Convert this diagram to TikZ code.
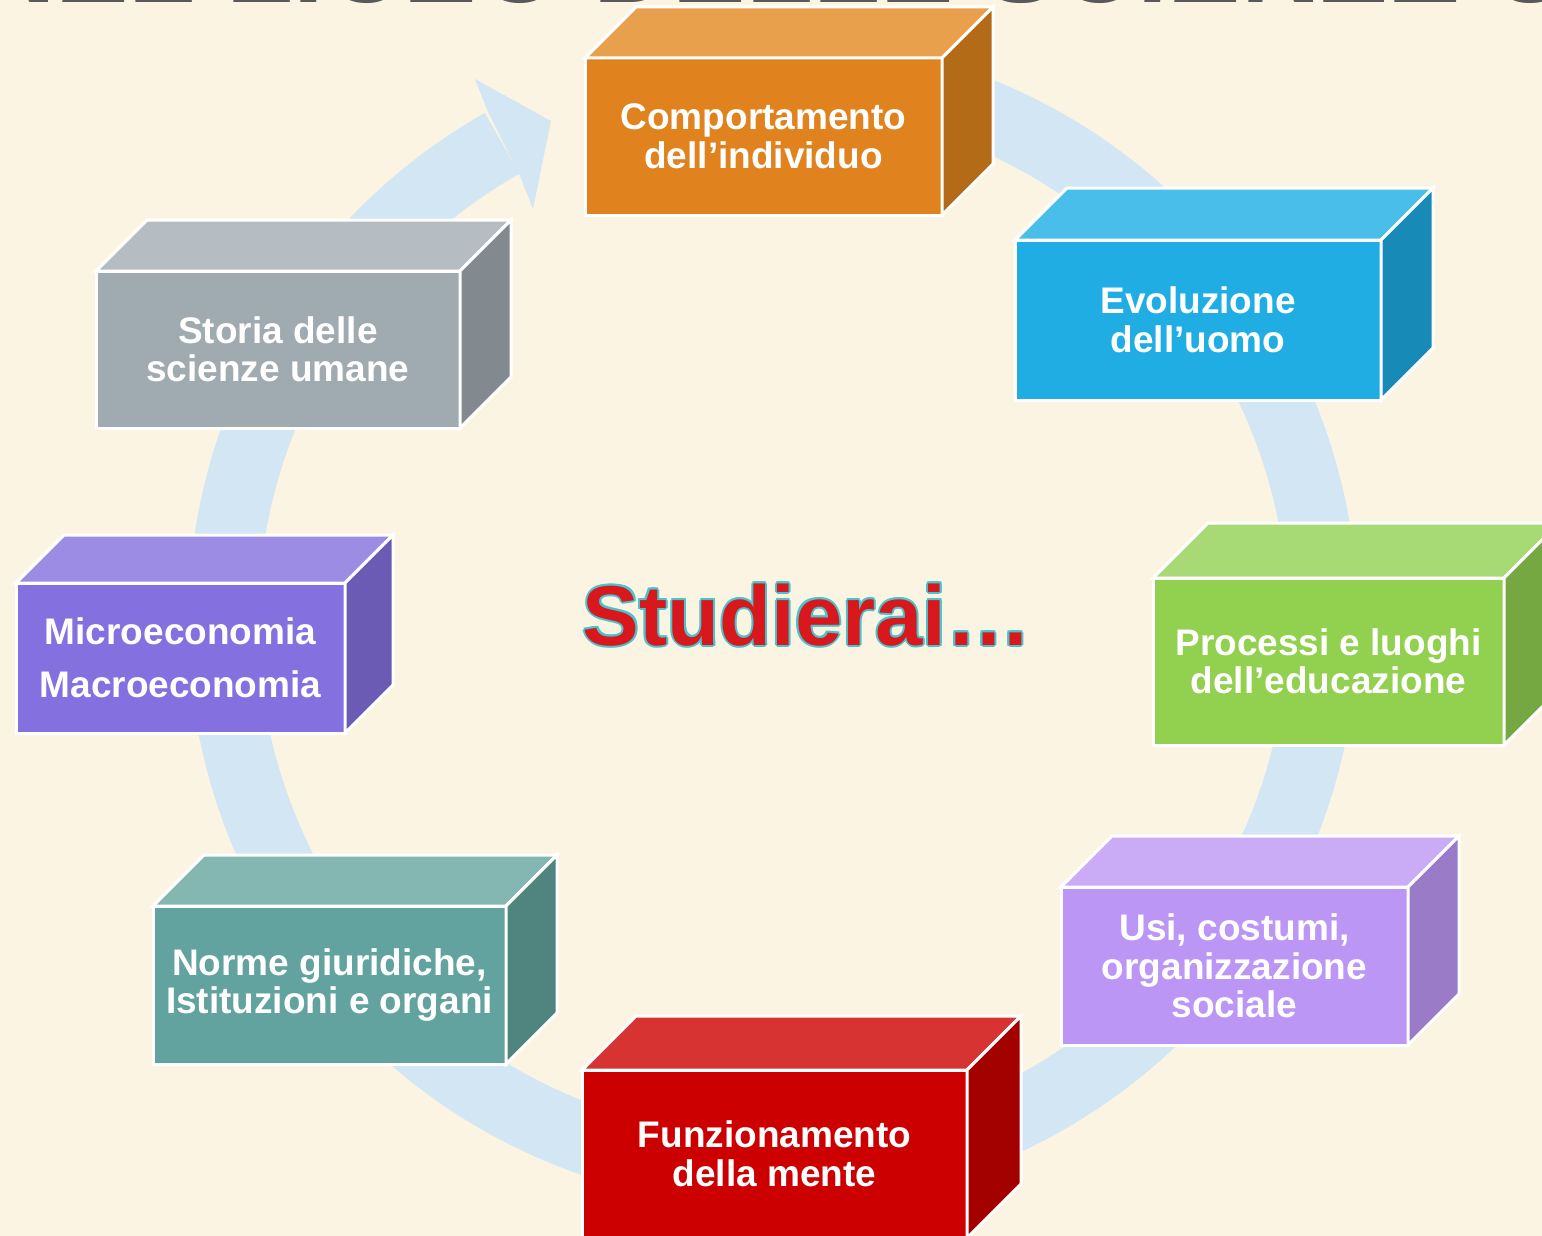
\documentclass[tikz,border=0pt]{standalone}
\usepackage{fontspec}
\setmainfont{Liberation Sans}
\definecolor{bg}{HTML}{FCF4E3}
\definecolor{band}{HTML}{D3E6F4}
\definecolor{titlegray}{HTML}{595959}
\definecolor{studred}{HTML}{D9181E}
\definecolor{studcyan}{HTML}{45C6CF}
\definecolor{oF}{HTML}{E0821E}\definecolor{oT}{HTML}{E8A04C}\definecolor{oS}{HTML}{B46B17}
\definecolor{bF}{HTML}{1FADE4}\definecolor{bT}{HTML}{4ABEEA}\definecolor{bS}{HTML}{178AB8}
\definecolor{gF}{HTML}{92D050}\definecolor{gT}{HTML}{A7DA75}\definecolor{gS}{HTML}{75A840}
\definecolor{lF}{HTML}{BB96F5}\definecolor{lT}{HTML}{C9ABF6}\definecolor{lS}{HTML}{9A7BC7}
\definecolor{rF}{HTML}{CC0000}\definecolor{rT}{HTML}{D83333}\definecolor{rS}{HTML}{A30000}
\definecolor{tF}{HTML}{62A39F}\definecolor{tT}{HTML}{84B6B2}\definecolor{tS}{HTML}{4F847F}
\definecolor{pF}{HTML}{8470DE}\definecolor{pT}{HTML}{9C8CE4}\definecolor{pS}{HTML}{6B5BB4}
\definecolor{yF}{HTML}{A0AAB1}\definecolor{yT}{HTML}{B5BDC2}\definecolor{yS}{HTML}{82898F}
\newcommand\drawcubefaces[4]{%
  \filldraw[fill=#3, facewhite] (#1.north west) -- ++(#2,-#2) -- ([shift={(#2,-#2)}]#1.north east) -- (#1.north east) -- cycle;
  \filldraw[fill=#4, facewhite] (#1.north east) -- ([shift={(#2,-#2)}]#1.north east) -- ([shift={(#2,-#2)}]#1.south east) -- (#1.south east) -- cycle;
}
\begin{document}
\begin{tikzpicture}[x=1pt,y=-1pt,
  facewhite/.style={draw=white, line width=3pt, line join=miter},
  cubefront/.style={draw=white, line width=3pt, inner sep=0pt, outer sep=0pt,
    text=white, align=center, font=\fontsize{37}{38.5}\selectfont\bfseries},
  studtext/.style={inner sep=0pt, anchor=base, font=\fontsize{85}{90}\selectfont\bfseries}]
\fill[bg] (0,0) rectangle (1542,1236);
\useasboundingbox (0,0) rectangle (1542,1236);
% circular arrow
\draw[band, line width=70pt] (773,622) ++(-80:550) arc[start angle=-80, end angle=240.5, radius=550];
\fill[band] (488,112) -- (475,79) -- (551,121) -- (533,209) -- (520,176) -- cycle;
% cut-off title
\begin{scope}
\clip (0,0) rectangle (1542,1236);
\node[anchor=base west, inner sep=0pt, text=titlegray, font=\fontsize{110}{120}\selectfont\bfseries] (title) at (-24,2.5) {NEL LICEO DELLE SCIENZE UMANE};
\end{scope}
% boxes
\node[cubefront, fill=oF, minimum width=357pt, minimum height=157pt] (b1) at (763.5,136.5) {Comportamento\\dell’individuo};
\drawcubefaces{b1}{51}{oT}{oS}
\node[cubefront, fill=bF, minimum width=366pt, minimum height=160pt] (b2) at (1198,320) {Evoluzione\\dell’uomo};
\drawcubefaces{b2}{52}{bT}{bS}
\node[cubefront, fill=gF, minimum width=351pt, minimum height=167pt] (b3) at (1328.5,661.5) {Processi e luoghi\\dell’educazione};
\drawcubefaces{b3}{55}{gT}{gS}
\node[cubefront, fill=lF, minimum width=347pt, minimum height=158pt] (b4) at (1234.5,966) {Usi, costumi,\\organizzazione\\sociale};
\drawcubefaces{b4}{51}{lT}{lS}
\node[cubefront, fill=rF, minimum width=385pt, minimum height=168pt] (b5) at (774.5,1154) {Funzionamento\\della mente};
\drawcubefaces{b5}{54}{rT}{rS}
\node[cubefront, fill=tF, minimum width=353pt, minimum height=158pt] (b6) at (329.5,985) {Norme giuridiche,\\Istituzioni e organi};
\drawcubefaces{b6}{51}{tT}{tS}
\node[cubefront, fill=pF, minimum width=329pt, minimum height=150pt] (b7) at (180.5,658) {Microeconomia\\[15pt]Macroeconomia};
\drawcubefaces{b7}{48}{pT}{pS}
\node[cubefront, fill=yF, minimum width=364pt, minimum height=157pt] (b8) at (278,349.5) {Storia delle\\scienze umane};
\drawcubefaces{b8}{51}{yT}{yS}
% central text with outline
\foreach \dx/\dy in {-2/0,2/0,0/-2,0/2,-1.4/-1.4,1.4/1.4,-1.4/1.4,1.4/-1.4}
  \node[studtext, text=studcyan] at (807+\dx,645+\dy) {Studierai…};
\node[studtext, text=studred] (stud) at (807,645) {Studierai…};
\end{tikzpicture}
\end{document}
